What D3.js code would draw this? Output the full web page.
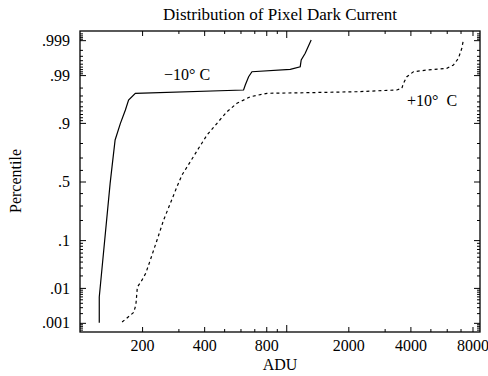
<!DOCTYPE html>
<html>
<head>
<meta charset="utf-8">
<script src="https://cdn.jsdelivr.net/npm/d3@7"></script>
<style>
  html, body { margin: 0; padding: 0; background: #fff; }
  svg { display: block; }
  text { font-family: "Liberation Serif", "Times New Roman", serif; fill: #000; }
</style>
</head>
<body>
<svg id="chart" width="488" height="376"></svg>
<script>
// ---------------- data ----------------
const coldADU = [124, 124, 140, 143, 148, 157, 166, 172, 185.5, 621, 633, 657, 682, 1046, 1169, 1182, 1236, 1321];
const coldPct = [0.001, 0.0058, 0.484, 0.627, 0.818, 0.898, 0.941, 0.9626, 0.9731, 0.9773, 0.9826, 0.989, 0.9918, 0.99292, 0.99396, 0.99605, 0.99747, 0.99901];

const warmADU = [160, 182, 186.6, 189.7, 200, 208.6, 219.3, 236.4, 254.4, 274.2, 295.4, 312.4, 342.7, 375.9, 412.9, 461.6, 516.1, 576.9, 669.1, 806.3, 1260, 2200, 3438, 3636, 3701, 3844, 4138, 4806, 6004, 6466, 6837, 7100, 7228];
const warmPct = [0.00106, 0.00209, 0.00347, 0.0105, 0.0157, 0.0227, 0.0431, 0.1005, 0.200, 0.317, 0.455, 0.5565, 0.6675, 0.766, 0.845, 0.8984, 0.9365, 0.9564, 0.9681, 0.9731, 0.9739, 0.9752, 0.9773, 0.9792, 0.9841, 0.9890, 0.9918, 0.9926, 0.99334, 0.99457, 0.99646, 0.99820, 0.99901];

const xLabelTicks = [200, 400, 800, 2000, 4000, 8000];
const xDecadeTicks = [1000];
const xMinorTicks = [300, 500, 600, 700, 900, 3000, 5000, 6000, 7000];

const yLabelTicks = [0.001, 0.01, 0.1, 0.5, 0.9, 0.99, 0.999];
const yLabelText = [".001", ".01", ".1", ".5", ".9", ".99", ".999"];
const yMinorTicks = [0.0006, 0.0007, 0.0008, 0.0009,
  0.002, 0.003, 0.004, 0.005, 0.006, 0.007, 0.008, 0.009,
  0.02, 0.03, 0.04, 0.05, 0.06, 0.07, 0.08, 0.09,
  0.2, 0.3, 0.4, 0.6, 0.7, 0.8,
  0.91, 0.92, 0.93, 0.94, 0.95, 0.96, 0.97, 0.98,
  0.991, 0.992, 0.993, 0.994, 0.995, 0.996, 0.997, 0.998,
  0.9991, 0.9992, 0.9993, 0.9994];

const title = "Distribution of Pixel Dark Current";
const xTitle = "ADU";
const yTitle = "Percentile";
const coldLabel = "\u221210\u00B0 C";
const warmLabel = "+10\u00B0  C";

// ---------------- probit transform ----------------
function qnorm(p) {
  const a = [-3.969683028665376e+01, 2.209460984245205e+02, -2.759285104469687e+02, 1.383577518672690e+02, -3.066479806614716e+01, 2.506628277459239e+00];
  const b = [-5.447609879822406e+01, 1.615858368580409e+02, -1.556989798598866e+02, 6.680131188771972e+01, -1.328068155288572e+01];
  const c = [-7.784894002430293e-03, -3.223964580411365e-01, -2.400758277161838e+00, -2.549732539343734e+00, 4.374664141464968e+00, 2.938163982698783e+00];
  const d = [7.784695709041462e-03, 3.224671290700398e-01, 2.445134137142996e+00, 3.754408661907416e+00];
  const plow = 0.02425, phigh = 1 - plow;
  let q, r;
  if (p < plow) {
    q = Math.sqrt(-2 * Math.log(p));
    return (((((c[0]*q+c[1])*q+c[2])*q+c[3])*q+c[4])*q+c[5]) / ((((d[0]*q+d[1])*q+d[2])*q+d[3])*q+1);
  } else if (p <= phigh) {
    q = p - 0.5; r = q*q;
    return (((((a[0]*r+a[1])*r+a[2])*r+a[3])*r+a[4])*r+a[5])*q / (((((b[0]*r+b[1])*r+b[2])*r+b[3])*r+b[4])*r+1);
  } else {
    q = Math.sqrt(-2 * Math.log(1 - p));
    return -(((((c[0]*q+c[1])*q+c[2])*q+c[3])*q+c[4])*q+c[5]) / ((((d[0]*q+d[1])*q+d[2])*q+d[3])*q+1);
  }
}

// ---------------- layout ----------------
const L = 80, R = 480, T = 31, B = 332;
const svg = d3.select("#chart");

const x = d3.scaleLog().domain([100, 8700]).range([L, R]);
const yz = d3.scaleLinear().domain([qnorm(0.0005), qnorm(0.9995)]).range([B, T]);
const y = p => yz(qnorm(p));

const FS = 16;

function styleAxis(g) {
  g.select(".domain").remove();
  g.selectAll(".tick line").attr("stroke", "#000").attr("stroke-width", 1);
  g.selectAll(".tick text").attr("font-size", FS).attr("font-family", "Liberation Serif, serif").attr("fill", "#000");
}

// bottom axes
svg.append("g").attr("transform", `translate(0,${B})`)
  .call(d3.axisBottom(x).tickValues(xLabelTicks).tickFormat(d3.format("d")).tickSize(-5).tickPadding(8))
  .call(styleAxis);
svg.append("g").attr("transform", `translate(0,${B})`)
  .call(d3.axisBottom(x).tickValues(xDecadeTicks).tickFormat("").tickSize(-7))
  .call(styleAxis);
svg.append("g").attr("transform", `translate(0,${B})`)
  .call(d3.axisBottom(x).tickValues(xMinorTicks).tickFormat("").tickSize(-3))
  .call(styleAxis);
// top axes
svg.append("g").attr("transform", `translate(0,${T})`)
  .call(d3.axisTop(x).tickValues(xLabelTicks).tickFormat("").tickSize(-5))
  .call(styleAxis);
svg.append("g").attr("transform", `translate(0,${T})`)
  .call(d3.axisTop(x).tickValues(xDecadeTicks).tickFormat("").tickSize(-7))
  .call(styleAxis);
svg.append("g").attr("transform", `translate(0,${T})`)
  .call(d3.axisTop(x).tickValues(xMinorTicks).tickFormat("").tickSize(-3))
  .call(styleAxis);

// left axes
svg.append("g").attr("transform", `translate(${L},0)`)
  .call(d3.axisLeft(yz).tickValues(yLabelTicks.map(qnorm)).tickFormat((d, i) => yLabelText[i]).tickSize(-6).tickPadding(10))
  .call(styleAxis);
svg.append("g").attr("transform", `translate(${L},0)`)
  .call(d3.axisLeft(yz).tickValues(yMinorTicks.map(qnorm)).tickFormat("").tickSize(-3))
  .call(styleAxis);
// right axes
svg.append("g").attr("transform", `translate(${R},0)`)
  .call(d3.axisRight(yz).tickValues(yLabelTicks.map(qnorm)).tickFormat("").tickSize(-6))
  .call(styleAxis);
svg.append("g").attr("transform", `translate(${R},0)`)
  .call(d3.axisRight(yz).tickValues(yMinorTicks.map(qnorm)).tickFormat("").tickSize(-3))
  .call(styleAxis);

// frame
svg.append("rect").attr("x", L).attr("y", T).attr("width", R - L).attr("height", B - T)
  .attr("fill", "none").attr("stroke", "#000").attr("stroke-width", 1.3);

// lines
const line = d3.line().x(d => x(d[0])).y(d => y(d[1]));
svg.append("path").datum(coldADU.map((v, i) => [v, coldPct[i]]))
  .attr("d", line).attr("fill", "none").attr("stroke", "#000").attr("stroke-width", 1.2);
svg.append("path").datum(warmADU.map((v, i) => [v, warmPct[i]]))
  .attr("d", line).attr("fill", "none").attr("stroke", "#000").attr("stroke-width", 1.2)
  .attr("stroke-dasharray", "3,3");

// labels
svg.append("text").attr("x", 164).attr("y", 80).attr("font-size", FS).text(coldLabel);
svg.append("text").attr("x", 407).attr("y", 106).attr("font-size", FS).style("white-space", "pre").text(warmLabel);

svg.append("text").attr("x", (L + R) / 2).attr("y", 20).attr("text-anchor", "middle").attr("font-size", 17).text(title);
svg.append("text").attr("x", (L + R) / 2).attr("y", 370).attr("text-anchor", "middle").attr("font-size", FS).text(xTitle);
svg.append("text").attr("transform", `translate(21,181) rotate(-90)`).attr("text-anchor", "middle").attr("font-size", FS).text(yTitle);
</script>
</body>
</html>
